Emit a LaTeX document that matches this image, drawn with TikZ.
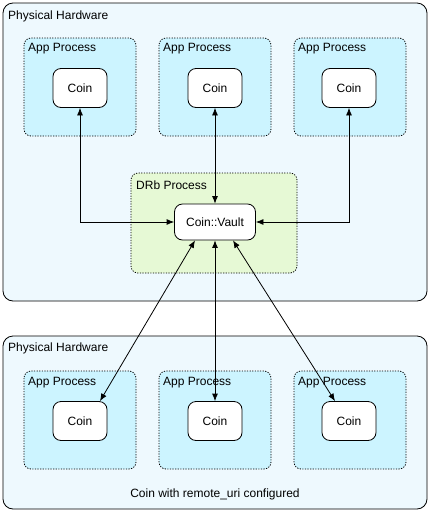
\documentclass[tikz,border=0pt]{standalone}
\usepackage{fontspec}
\setmainfont{Liberation Sans}
\usetikzlibrary{arrows.meta}
\definecolor{hwfill}{HTML}{EEF9FE}
\definecolor{appfill}{HTML}{CCF4FF}
\definecolor{drbfill}{HTML}{E6F9D5}
\tikzset{
  hwbox/.style={draw=black, fill=hwfill, rounded corners=10pt, line width=0.8pt},
  procbox/.style={draw=black, dash pattern=on 1.2pt off 1.4pt, rounded corners=7pt, line width=0.8pt},
  coinbox/.style={draw=black, fill=white, rounded corners=8pt, line width=0.8pt, minimum width=54pt, minimum height=39pt, inner sep=0pt, font=\fontsize{12}{14}\selectfont},
  vaultbox/.style={coinbox, minimum width=81pt, minimum height=36pt},
  lbl/.style={anchor=west, inner sep=0pt, font=\fontsize{12}{14}\selectfont},
  conn/.style={{Latex[length=7.5pt,width=6pt]}-{Latex[length=7.5pt,width=6pt]}, line width=0.8pt},
}
\begin{document}
\begin{tikzpicture}[x=1pt,y=-1pt]
\useasboundingbox (0,0) rectangle (430,512);
% physical hardware boxes
\draw[hwbox] (3,3) rectangle (427,301);
\node[lbl] (hw1) at (8,16) {Physical Hardware};
\draw[hwbox] (3,336) rectangle (427,509);
\node[lbl] (hw2) at (8,348) {Physical Hardware};
% app processes
\foreach \x/\n in {24/a,159/b,294/c}{
  \draw[procbox, fill=appfill] (\x,38) rectangle ++(112,98);
  \node[lbl] at (\x+4,49) {App Process};
  \draw[procbox, fill=appfill] (\x,371) rectangle ++(112,98);
  \node[lbl] at (\x+4,383) {App Process};
}
% DRb process
\draw[procbox, fill=drbfill] (131,173) rectangle (297,273);
\node[lbl] (drb) at (136,185) {DRb Process};
% nodes
\node[coinbox] (ta) at (80,88) {Coin};
\node[coinbox] (tb) at (215,88) {Coin};
\node[coinbox] (tc) at (349,88) {Coin};
\node[vaultbox] (v) at (215,222) {Coin::Vault};
\node[coinbox] (ba) at (80,421) {Coin};
\node[coinbox] (bb) at (215,421) {Coin};
\node[coinbox] (bc) at (349,421) {Coin};
\node[font=\fontsize{12}{14}\selectfont, inner sep=0pt] (note) at (215,494) {Coin with remote\_uri configured};
% connectors
\draw[conn] (ta.south) |- (v.west);
\draw[conn] (tb.south) -- (v.north);
\draw[conn] (tc.south) |- (v.east);
\draw[conn] ([xshift=-20pt]v.south) -- ([xshift=20pt]ba.north);
\draw[conn] (v.south) -- (bb.north);
\draw[conn] ([xshift=18pt]v.south) -- ([xshift=-14pt]bc.north);
\end{tikzpicture}
\end{document}
